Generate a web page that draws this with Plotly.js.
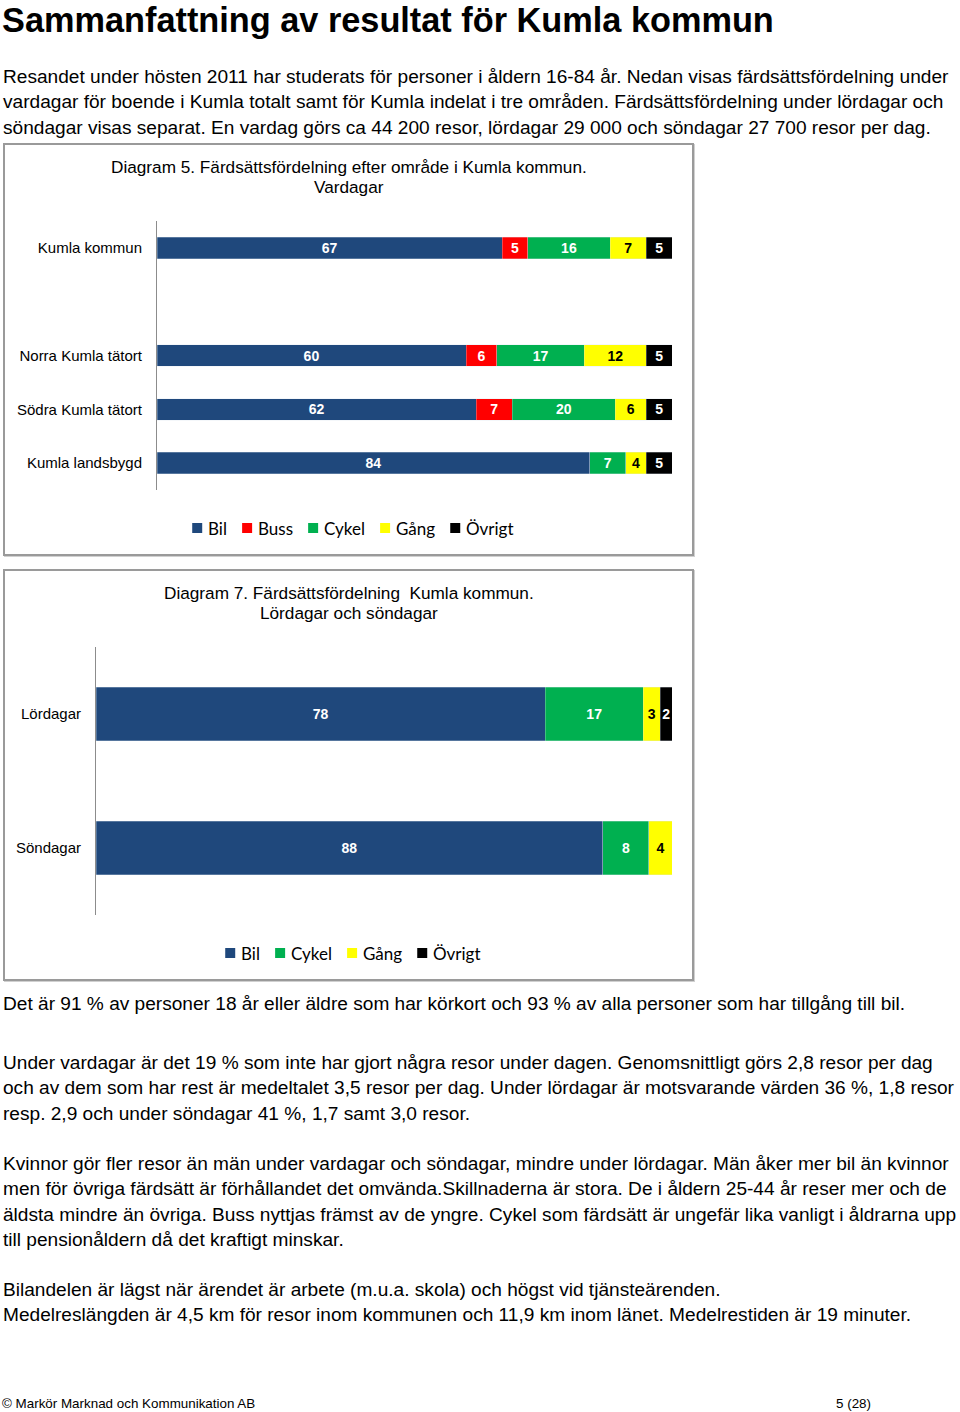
<!DOCTYPE html>
<html>
<head>
<meta charset="utf-8">
<script src="https://cdn.plot.ly/plotly-3.0.1.min.js"></script>
<style>
  html, body { margin:0; padding:0; background:#fff; }
  body { width:960px; height:1412px; position:relative; overflow:hidden; font-family:"Liberation Sans", Arial, Helvetica, sans-serif; color:#000; }
  .h1 { position:absolute; left:2px; top:0px; font-size:34.3px; line-height:40px; font-weight:bold; white-space:nowrap; }
  .p { position:absolute; left:3px; font-size:19.1px; line-height:25.3px; white-space:nowrap; }
  .box { position:absolute; left:3px; width:687px; border:2px solid #9a9a9a; box-shadow: 1px 1px 0 #d0d0d0; background:#fff; }
  .foot { position:absolute; top:1396px; font-size:13.4px; white-space:nowrap; }
</style>
</head>
<body>
<div class="h1">Sammanfattning av resultat för Kumla kommun</div>
<div class="p" style="top:64px">Resandet under hösten 2011 har studerats för personer i åldern 16-84 år. Nedan visas färdsättsfördelning under<br>vardagar för boende i Kumla totalt samt för Kumla indelat i tre områden. Färdsättsfördelning under lördagar och<br>söndagar visas separat. En vardag görs ca 44 200 resor, lördagar 29 000 och söndagar 27 700 resor per dag.</div>

<div class="box" style="top:143px;height:409px"><div id="chart1" style="width:687px;height:409px"></div></div>
<div class="box" style="top:569px;height:408px"><div id="chart2" style="width:687px;height:408px"></div></div>

<div class="p" style="top:991px">Det är 91 % av personer 18 år eller äldre som har körkort och 93 % av alla personer som har tillgång till bil.</div>
<div class="p" style="top:1050px">Under vardagar är det 19 % som inte har gjort några resor under dagen. Genomsnittligt görs 2,8 resor per dag<br>och av dem som har rest är medeltalet 3,5 resor per dag. Under lördagar är motsvarande värden 36 %, 1,8 resor<br>resp. 2,9 och under söndagar 41 %, 1,7 samt 3,0 resor.</div>
<div class="p" style="top:1151px">Kvinnor gör fler resor än män under vardagar och söndagar, mindre under lördagar. Män åker mer bil än kvinnor<br>men för övriga färdsätt är förhållandet det omvända.Skillnaderna är stora. De i åldern 25-44 år reser mer och de<br>äldsta mindre än övriga. Buss nyttjas främst av de yngre. Cykel som färdsätt är ungefär lika vanligt i åldrarna upp<br>till pensionåldern då det kraftigt minskar.</div>
<div class="p" style="top:1277px">Bilandelen är lägst när ärendet är arbete (m.u.a. skola) och högst vid tjänsteärenden.<br>Medelreslängden är 4,5 km för resor inom kommunen och 11,9 km inom länet. Medelrestiden är 19 minuter.</div>

<div class="foot" style="left:2px">© Markör Marknad och Kommunikation AB</div>
<div class="foot" style="left:836px">5 (28)</div>

<script>
// ---------- Data: Diagram 5 (vardagar) ----------
const cats1 = ["Kumla kommun", "", "Norra Kumla tätort", "Södra Kumla tätort", "Kumla landsbygd"];
const rows1 = ["Kumla kommun", "Norra Kumla tätort", "Södra Kumla tätort", "Kumla landsbygd"];
const bil1    = [67, 60, 62, 84];
const buss1   = [5, 6, 7, null];
const cykel1  = [16, 17, 20, 7];
const gang1   = [7, 12, 6, 4];
const ovrigt1 = [5, 5, 5, 5];

// ---------- Data: Diagram 7 (helg) ----------
const cats2 = ["Lördagar", "Söndagar"];
const bil2    = [78, 88];
const cykel2  = [17, 8];
const gang2   = [3, 4];
const ovrigt2 = [2, null];

const title1 = ["Diagram 5. Färdsättsfördelning efter område i Kumla kommun.", "Vardagar"];
const title2 = ["Diagram 7. Färdsättsfördelning  Kumla kommun.", "Lördagar och söndagar"];

const colors = {"Bil":"#1f487c", "Buss":"#ff0000", "Cykel":"#00b050", "Gång":"#ffff00", "Övrigt":"#000000"};
const textColors = {"Bil":"#ffffff", "Buss":"#ffffff", "Cykel":"#ffffff", "Gång":"#000000", "Övrigt":"#ffffff"};

const LEG_FONT = "Lato, Carlito, sans-serif";
const LEG_SIZE = 17;

function mkTrace(name, vals, yPos) {
  return {
    type: "bar", orientation: "h", name: name,
    x: vals, y: yPos,
    width: 0.4,
    marker: {color: colors[name], line: {color: "rgba(220,230,240,0.6)", width: 0.5}},
    text: vals.map(v => v == null ? "" : String(v)),
    textposition: "inside", insidetextanchor: "middle", textangle: 0,
    constraintext: "none",
    textfont: {family: "Liberation Sans, Arial, sans-serif", size: 14, color: textColors[name], weight: "bold"},
    hoverinfo: "x+name",
    showlegend: false
  };
}

const measCtx = document.createElement("canvas").getContext("2d");
function textW(s) { measCtx.font = LEG_SIZE + "px " + LEG_FONT; return measCtx.measureText(s).width; }

// Build a compact legend (square + label) centred at pixel position cx within the plot area
function legendItems(names, plotW, plotH, cxPx, cyPx) {
  const sq = 10, gapSqText = 4, gapItems = 17;
  const widths = names.map(n => sq + gapSqText + textW(n));
  const total = widths.reduce((a, b) => a + b, 0) + gapItems * (names.length - 1);
  let x = cxPx - total / 2;
  const shapes = [], anns = [];
  names.forEach((n, i) => {
    shapes.push({type: "rect", xref: "paper", yref: "paper",
      x0: x / plotW, x1: (x + sq) / plotW,
      y0: (cyPx - sq / 2) / plotH, y1: (cyPx + sq / 2) / plotH,
      fillcolor: colors[n], line: {width: 0}});
    anns.push({xref: "paper", yref: "paper", x: (x + sq + gapSqText) / plotW, y: cyPx / plotH,
      xanchor: "left", yanchor: "middle", showarrow: false, text: n,
      font: {family: LEG_FONT, size: LEG_SIZE, color: "#000"}});
    x += widths[i] + gapItems;
  });
  return {shapes, anns};
}

function layoutFor(cats, titleLines, W, H, m, legendNames, legendCx) {
  const plotW = W - m.l - m.r, plotH = H - m.t - m.b;
  const leg = legendItems(legendNames, plotW, plotH, legendCx, -38);
  const lineY = [22, 42]; // px from top of figure
  const titleAnns = titleLines.map((t, i) => ({xref: "paper", yref: "paper",
    x: (W / 2 - m.l) / plotW, y: 1 + (m.t - lineY[i]) / plotH,
    xanchor: "center", yanchor: "middle", showarrow: false,
    text: t,
    font: {family: "Liberation Sans, Arial, sans-serif", size: 17.2, color: "#000"}}));
  return {
    width: W, height: H, margin: m,
    paper_bgcolor: "#fff", plot_bgcolor: "#fff",
    barmode: "stack", showlegend: false,
    xaxis: {range: [0, 100], visible: false, fixedrange: true},
    yaxis: {
      range: [cats.length - 0.5, -0.5],
      tickmode: "array",
      tickvals: cats.map((c, i) => i),
      ticktext: cats,
      showline: true, linecolor: "#8c8c8c", linewidth: 1,
      showgrid: false, zeroline: false, ticks: "", ticklen: 0,
      ticklabelstandoff: 11,
      tickfont: {family: "Liberation Sans, Arial, sans-serif", size: 15, color: "#000"},
      fixedrange: true
    },
    shapes: leg.shapes,
    annotations: titleAnns.concat(leg.anns)
  };
}

// Chart 1
const y1 = rows1.map(r => cats1.indexOf(r));
const names1 = ["Bil", "Buss", "Cykel", "Gång", "Övrigt"];
const traces1 = [
  mkTrace("Bil", bil1, y1),
  mkTrace("Buss", buss1, y1),
  mkTrace("Cykel", cykel1, y1),
  mkTrace("Gång", gang1, y1),
  mkTrace("Övrigt", ovrigt1, y1)
];
const m1 = {l: 152, r: 20, t: 76, b: 64};
const lay1 = layoutFor(cats1, title1, 687, 409, m1, names1, 352 - 157);
Plotly.newPlot("chart1", traces1, lay1, {displayModeBar: false, staticPlot: true});

// Chart 2
const y2 = cats2.map((c, i) => i);
const names2 = ["Bil", "Cykel", "Gång", "Övrigt"];
const traces2 = [
  mkTrace("Bil", bil2, y2),
  mkTrace("Cykel", cykel2, y2),
  mkTrace("Gång", gang2, y2),
  mkTrace("Övrigt", ovrigt2, y2)
];
const m2 = {l: 91, r: 20, t: 76, b: 64};
const lay2 = layoutFor(cats2, title2, 687, 408, m2, names2, 352 - 96);
Plotly.newPlot("chart2", traces2, lay2, {displayModeBar: false, staticPlot: true});
</script>
</body>
</html>
